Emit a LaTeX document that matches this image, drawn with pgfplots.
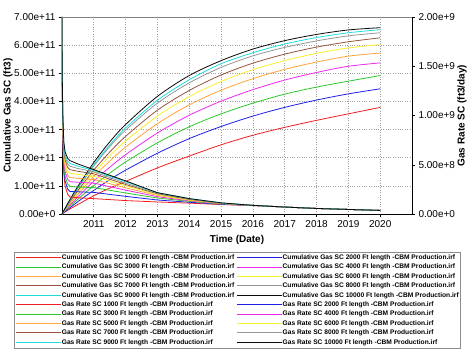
\documentclass[border=0pt]{standalone}
\usepackage{pgfplots}
\pgfplotsset{compat=1.18}
\usepackage{pgfplotstable}
\usepackage{fontspec}
\setmainfont{Liberation Sans}

\definecolor{cA}{RGB}{240,30,30}
\definecolor{cB}{RGB}{30,30,230}
\definecolor{cC}{RGB}{40,200,40}
\definecolor{cD}{RGB}{240,40,240}
\definecolor{cE}{RGB}{255,165,60}
\definecolor{cF}{RGB}{250,240,40}
\definecolor{cG}{RGB}{150,85,60}
\definecolor{cH}{RGB}{150,150,150}
\definecolor{cI}{RGB}{30,220,220}
\definecolor{cJ}{RGB}{10,10,10}

% Cumulative gas (ft3)
\pgfplotstableread{
yr c1 c2 c3 c4 c5 c6 c7 c8 c9 c10
2010.00 0 0 0 0 0 0 0 0 0 0
2010.25 0.18e11 0.22e11 0.27e11 0.31e11 0.36e11 0.40e11 0.43e11 0.47e11 0.49e11 0.51e11
2010.50 0.34e11 0.44e11 0.53e11 0.61e11 0.70e11 0.78e11 0.83e11 0.91e11 0.94e11 0.98e11
2011.00 0.65e11 0.84e11 1.01e11 1.17e11 1.33e11 1.46e11 1.56e11 1.70e11 1.75e11 1.83e11
2011.50 0.92e11 1.22e11 1.45e11 1.66e11 1.88e11 2.06e11 2.20e11 2.39e11 2.45e11 2.56e11
2012.00 1.16e11 1.56e11 1.85e11 2.11e11 2.38e11 2.60e11 2.76e11 2.98e11 3.06e11 3.18e11
2013.00 1.64e11 2.16e11 2.53e11 2.88e11 3.21e11 3.48e11 3.69e11 3.94e11 4.04e11 4.18e11
2014.00 2.06e11 2.68e11 3.10e11 3.51e11 3.88e11 4.17e11 4.39e11 4.66e11 4.77e11 4.92e11
2015.00 2.46e11 3.11e11 3.56e11 4.01e11 4.40e11 4.71e11 4.94e11 5.21e11 5.34e11 5.45e11
2016.00 2.80e11 3.48e11 3.94e11 4.42e11 4.81e11 5.13e11 5.36e11 5.62e11 5.73e11 5.86e11
2017.00 3.08e11 3.79e11 4.26e11 4.76e11 5.14e11 5.45e11 5.68e11 5.92e11 6.04e11 6.16e11
2018.00 3.33e11 4.05e11 4.51e11 5.03e11 5.40e11 5.71e11 5.93e11 6.15e11 6.27e11 6.38e11
2019.00 3.56e11 4.27e11 4.72e11 5.25e11 5.61e11 5.90e11 6.12e11 6.33e11 6.44e11 6.54e11
2020.00 3.79e11 4.45e11 4.92e11 5.37e11 5.72e11 6.02e11 6.26e11 6.44e11 6.55e11 6.62e11
}\cumtab

% Gas rate (ft3/day)
\pgfplotstableread{
yr r1 r2 r3 r4 r5 r6 r7 r8 r9 r10
2010.00 2.0e9 2.0e9 2.0e9 2.0e9 2.0e9 2.0e9 2.0e9 2.0e9 2.0e9 2.0e9
2010.01 1.269e9 1.291e9 1.311e9 1.331e9 1.349e9 1.366e9 1.380e9 1.394e9 1.406e9 1.417e9
2010.03 0.723e9 0.760e9 0.797e9 0.831e9 0.860e9 0.891e9 0.917e9 0.940e9 0.960e9 0.980e9
2010.06 0.411e9 0.460e9 0.503e9 0.546e9 0.583e9 0.620e9 0.651e9 0.683e9 0.709e9 0.731e9
2010.10 0.283e9 0.334e9 0.383e9 0.429e9 0.469e9 0.509e9 0.546e9 0.577e9 0.603e9 0.631e9
2010.18 0.203e9 0.254e9 0.306e9 0.354e9 0.397e9 0.437e9 0.474e9 0.509e9 0.537e9 0.566e9
2010.25 0.174e9 0.229e9 0.280e9 0.329e9 0.371e9 0.414e9 0.451e9 0.486e9 0.514e9 0.543e9
2010.50 0.166e9 0.226e9 0.274e9 0.323e9 0.363e9 0.403e9 0.434e9 0.463e9 0.486e9 0.509e9
2011.00 0.157e9 0.220e9 0.269e9 0.314e9 0.351e9 0.383e9 0.409e9 0.429e9 0.443e9 0.451e9
2012.00 0.137e9 0.180e9 0.214e9 0.243e9 0.266e9 0.286e9 0.300e9 0.314e9 0.329e9 0.337e9
2013.00 0.123e9 0.143e9 0.163e9 0.177e9 0.189e9 0.197e9 0.206e9 0.211e9 0.217e9 0.217e9
2014.00 0.111e9 0.120e9 0.129e9 0.134e9 0.140e9 0.143e9 0.149e9 0.154e9 0.157e9 0.157e9
2015.00 0.097e9 0.100e9 0.103e9 0.106e9 0.109e9 0.109e9 0.111e9 0.111e9 0.114e9 0.114e9
2016.00 0.0857e9 0.0886e9 0.0886e9 0.0886e9 0.0886e9 0.0886e9 0.0886e9 0.0886e9 0.0886e9 0.0886e9
2017.00 0.0714e9 0.0714e9 0.0714e9 0.0714e9 0.0714e9 0.0714e9 0.0714e9 0.0714e9 0.0714e9 0.0714e9
2018.00 0.0571e9 0.0571e9 0.0571e9 0.0571e9 0.0571e9 0.0571e9 0.0571e9 0.0571e9 0.0571e9 0.0571e9
2019.00 0.0471e9 0.0471e9 0.0471e9 0.0471e9 0.0471e9 0.0471e9 0.0471e9 0.0471e9 0.0471e9 0.0471e9
2020.00 0.0371e9 0.0371e9 0.0371e9 0.0371e9 0.0371e9 0.0371e9 0.0371e9 0.0371e9 0.0371e9 0.0371e9
}\ratetab

\pgfplotsset{
  common/.style={
    scale only axis, width=350.5pt, height=197.3pt,
    xmin=2010, xmax=2021,
    tick align=outside, major tick length=3pt,
    tick style={black, line width=0.6pt},
    axis line style={black, line width=0.8pt},
    ticklabel style={font=\fontsize{10}{12}\selectfont},
    every axis plot/.append style={line width=0.8pt},
    scaled y ticks=false,
  }
}

\begin{document}
\begin{tikzpicture}
\begin{axis}[common, name=main,
  ymin=0, ymax=7e11,
  axis x line*=bottom, axis y line*=left,
  xtick={2011,2012,2013,2014,2015,2016,2017,2018,2019,2020},
  xticklabels={2011,2012,2013,2014,2015,2016,2017,2018,2019,2020},
  ytick={0,1e11,2e11,3e11,4e11,5e11,6e11,7e11},
  yticklabels={0.00e+0,1.00e+11,2.00e+11,3.00e+11,4.00e+11,5.00e+11,6.00e+11,7.00e+11},
  grid=major, grid style={gray!75, dotted, line width=0.6pt},
  xlabel={Time (Date)},
  xlabel style={font=\bfseries\fontsize{10}{12}\selectfont, at={(axis description cs:0.5,-0.13)}, anchor=center},
  ylabel={Cumulative Gas SC (ft3)},
  ylabel style={font=\bfseries\fontsize{10}{12}\selectfont, at={(axis description cs:-0.154,0.5)}, anchor=center},
]
\addplot[cA, smooth] table[x=yr, y=c1] {\cumtab};
\addplot[cB, smooth] table[x=yr, y=c2] {\cumtab};
\addplot[cC, smooth] table[x=yr, y=c3] {\cumtab};
\addplot[cD, smooth] table[x=yr, y=c4] {\cumtab};
\addplot[cE, smooth] table[x=yr, y=c5] {\cumtab};
\addplot[cF, smooth] table[x=yr, y=c6] {\cumtab};
\addplot[cG, smooth] table[x=yr, y=c7] {\cumtab};
\addplot[cH, smooth] table[x=yr, y=c8] {\cumtab};
\addplot[cI, smooth] table[x=yr, y=c9] {\cumtab};
\addplot[cJ, smooth] table[x=yr, y=c10] {\cumtab};
\end{axis}

\begin{axis}[common,
  ymin=0, ymax=2e9,
  axis x line=none, axis y line*=right,
  ytick={0,5e8,1e9,1.5e9,2e9},
  yticklabels={0.00e+0,5.00e+8,1.00e+9,1.50e+9,2.00e+9},
  ylabel={Gas Rate SC (ft3/day)},
  ylabel style={font=\bfseries\fontsize{10}{12}\selectfont, at={(axis description cs:1.1427,0.5)}, anchor=center},
  legend columns=2,
  legend cell align=left,
  legend image code/.code={\draw[#1, line width=0.9pt] (0pt,0pt) -- (45pt,0pt);},
  legend style={at={(axis description cs:-0.137,-0.191)}, anchor=north west,
    draw=black!45, line width=0.5pt,
    font=\bfseries\fontsize{6.65}{8}\selectfont,
    inner xsep=1.5pt, inner ysep=2pt, row sep=2pt,
    /tikz/every even column/.append style={column sep=2pt},
    nodes={inner sep=0.3pt, text height=5.3pt, text depth=1.5pt}},
]
\addlegendimage{cA}\addlegendentry{Cumulative Gas SC 1000 Ft length -CBM Production.irf}
\addlegendimage{cB}\addlegendentry{Cumulative Gas SC 2000 Ft length -CBM Production.irf}
\addlegendimage{cC}\addlegendentry{Cumulative Gas SC 3000 Ft length -CBM Production.irf}
\addlegendimage{cD}\addlegendentry{Cumulative Gas SC 4000 Ft length -CBM Production.irf}
\addlegendimage{cE}\addlegendentry{Cumulative Gas SC 5000 Ft length -CBM Production.irf}
\addlegendimage{cF}\addlegendentry{Cumulative Gas SC 6000 Ft length -CBM Production.irf}
\addlegendimage{cG}\addlegendentry{Cumulative Gas SC 7000 Ft length -CBM Production.irf}
\addlegendimage{cH}\addlegendentry{Cumulative Gas SC 8000 Ft length -CBM Production.irf}
\addlegendimage{cI}\addlegendentry{Cumulative Gas SC 9000 Ft length -CBM Production.irf}
\addlegendimage{cJ}\addlegendentry{Cumulative Gas SC 10000 Ft length -CBM Production.irf}
\addplot[cA] table[x=yr, y=r1] {\ratetab}; \addlegendentry{Gas Rate SC 1000 Ft length -CBM Production.irf}
\addplot[cB] table[x=yr, y=r2] {\ratetab}; \addlegendentry{Gas Rate SC 2000 Ft length -CBM Production.irf}
\addplot[cC] table[x=yr, y=r3] {\ratetab}; \addlegendentry{Gas Rate SC 3000 Ft length -CBM Production.irf}
\addplot[cD] table[x=yr, y=r4] {\ratetab}; \addlegendentry{Gas Rate SC 4000 Ft length -CBM Production.irf}
\addplot[cE] table[x=yr, y=r5] {\ratetab}; \addlegendentry{Gas Rate SC 5000 Ft length -CBM Production.irf}
\addplot[cF] table[x=yr, y=r6] {\ratetab}; \addlegendentry{Gas Rate SC 6000 Ft length -CBM Production.irf}
\addplot[cG] table[x=yr, y=r7] {\ratetab}; \addlegendentry{Gas Rate SC 7000 Ft length -CBM Production.irf}
\addplot[cH] table[x=yr, y=r8] {\ratetab}; \addlegendentry{Gas Rate SC 8000 Ft length -CBM Production.irf}
\addplot[cI] table[x=yr, y=r9] {\ratetab}; \addlegendentry{Gas Rate SC 9000 Ft length -CBM Production.irf}
\addplot[cJ] table[x=yr, y=r10] {\ratetab}; \addlegendentry{Gas Rate SC 10000 Ft length -CBM Production.irf}
\draw[gray, line width=0.8pt] (rel axis cs:0,1) -- (rel axis cs:1,1);
\end{axis}
\path ([shift={(-61.5pt,-137.7pt)}]main.south west) rectangle ([shift={(412.5pt,214.3pt)}]main.south west);
\end{tikzpicture}
\end{document}
